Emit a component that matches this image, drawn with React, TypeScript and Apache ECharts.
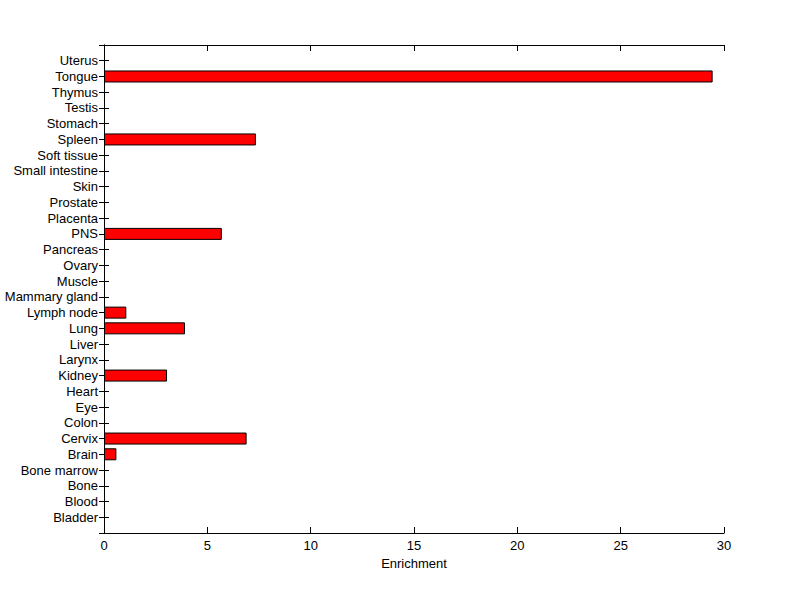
import React, { useEffect, useRef } from "react";
import * as echarts from "echarts";

const tissues = [
  "Bladder", "Blood", "Bone", "Bone marrow", "Brain", "Cervix", "Colon", "Eye",
  "Heart", "Kidney", "Larynx", "Liver", "Lung", "Lymph node", "Mammary gland",
  "Muscle", "Ovary", "Pancreas", "PNS", "Placenta", "Prostate", "Skin",
  "Small intestine", "Soft tissue", "Spleen", "Stomach", "Testis", "Thymus",
  "Tongue", "Uterus",
];
const enrichment = [
  0, 0, 0, 0, 0.6, 6.9, 0, 0, 0, 3.05, 0, 0, 3.92, 1.08, 0, 0, 0, 0, 5.7, 0,
  0, 0, 0, 0, 7.35, 0, 0, 0, 29.45, 0,
];
const xTicks = [0, 5, 10, 15, 20, 25, 30];

export default function App() {
  const ref = useRef<HTMLDivElement>(null);
  useEffect(() => {
    if (!ref.current) return;
    const chart = echarts.init(ref.current, null, { renderer: "svg" });
    const cats = ["", ...tissues, ""];
    const data = [null, ...enrichment.map((v) => (v > 0 ? v : null)), null];
    const font = "Liberation Sans";
    const axisLine = { show: true, lineStyle: { color: "#000", width: 1 } };
    const tick = { show: true, inside: true, length: 5, lineStyle: { color: "#000" } };
    chart.setOption({
      animation: false,
      backgroundColor: "#fff",
      grid: { left: 104, top: 45, right: 76, bottom: 66, containLabel: false, outerBoundsMode: "none" },
      xAxis: [
        {
          type: "value",
          min: 0,
          max: 30,
          interval: 5,
          position: "bottom",
          name: "Enrichment",
          nameLocation: "middle",
          nameGap: 23,
          nameTextStyle: { fontFamily: font, fontSize: 13, color: "#000" },
          axisLine,
          axisTick: { ...tick, length: 6 },
          splitLine: { show: false },
          axisLabel: {
            fontFamily: font,
            fontSize: 13,
            color: "#000",
            margin: 6,
            formatter: (v: number) => (xTicks.includes(v) ? String(v) : ""),
          },
        },
        {
          type: "value",
          min: 0,
          max: 30,
          interval: 5,
          position: "top",
          axisLine,
          axisTick: { ...tick, length: 6 },
          splitLine: { show: false },
          axisLabel: { show: false },
        },
      ],
      yAxis: [
        {
          type: "category",
          data: cats,
          boundaryGap: false,
          position: "left",
          axisLine,
          axisTick: { ...tick, interval: 0 },
          axisLabel: {
            interval: 0,
            fontFamily: font,
            fontSize: 13,
            color: "#000",
            margin: 6,
          },
          splitLine: { show: false },
        },
        {
          type: "category",
          data: cats,
          boundaryGap: false,
          position: "right",
          axisLine,
          axisTick: { ...tick, interval: 0 },
          axisLabel: { show: false },
          splitLine: { show: false },
        },
      ],
      series: [
        {
          type: "bar",
          xAxisIndex: 0,
          yAxisIndex: 0,
          data,
          barWidth: 12,
          itemStyle: { color: "#ff0000", borderColor: "#000", borderWidth: 1 },
        },
      ],
    });
    return () => chart.dispose();
  }, []);
  return <div ref={ref} style={{ width: 800, height: 599, position: "absolute", left: 0, top: 0 }} />;
}
